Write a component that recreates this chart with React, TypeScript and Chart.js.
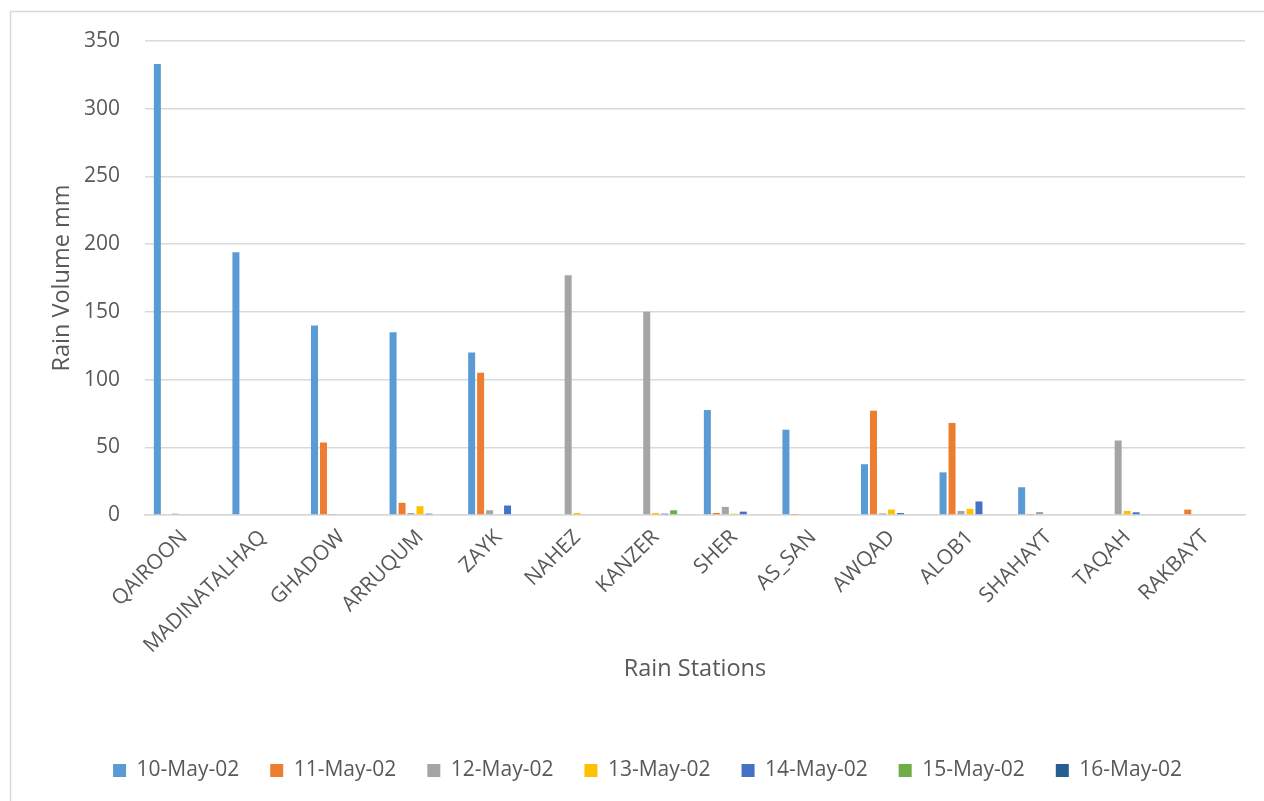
import React, { useEffect, useRef } from "react";
import { Chart, registerables } from "chart.js";

Chart.register(...registerables);

const stations = [
  "QAIROON", "MADINATALHAQ", "GHADOW", "ARRUQUM", "ZAYK", "NAHEZ", "KANZER",
  "SHER", "AS_SAN", "AWQAD", "ALOB1", "SHAHAYT", "TAQAH", "RAKBAYT",
];

const seriesNames = ["10-May-02", "11-May-02", "12-May-02", "13-May-02", "14-May-02", "15-May-02", "16-May-02"];

const may10 = [333, 194, 140, 135, 120, 0, 0, 77.5, 63, 37.5, 31.5, 20.5, 0, 0];
const may11 = [0, 0, 53.5, 9, 105, 0, 0, 1.5, 0.3, 77, 68, 0.3, 0, 4];
const may12 = [1, 0, 0.3, 1.5, 3.5, 177, 150, 6, 0, 1.2, 3, 2.2, 55, 0];
const may13 = [0.5, 0, 0.5, 6.5, 0, 1.5, 1.5, 1, 0, 4, 4.5, 0.5, 3, 0];
const may14 = [0, 0, 0, 1, 7, 0, 1, 2.5, 0, 1.5, 10, 0, 2, 0];
const may15 = [0, 0, 0, 0, 0, 0, 3.5, 0, 0, 0, 0, 0, 0, 0];
const may16 = [0, 0, 0, 0, 0, 0, 0, 0, 0, 0, 0, 0, 0, 0];

const seriesValues = [may10, may11, may12, may13, may14, may15, may16];
const seriesColors = ["#5B9BD5", "#ED7D31", "#A5A5A5", "#FFC000", "#4472C4", "#70AD47", "#255E91"];

const yTicks = [0, 50, 100, 150, 200, 250, 300, 350];

const FONT = "'Open Sans', 'Liberation Sans', sans-serif";
const TEXT = "#595959";
const GRID = "#D9D9D9";

const framePlugin = {
  id: "frame",
  afterLayout(chart: any) {
    if (chart.legend) {
      chart.legend.left += 15;
      chart.legend.right += 15;
    }
  },
  beforeDraw(chart: any) {
    const ctx = chart.ctx;
    ctx.save();
    ctx.strokeStyle = GRID;
    ctx.lineWidth = 1.5;
    ctx.beginPath();
    ctx.moveTo(10.5, 900);
    ctx.lineTo(10.5, 11.5);
    ctx.lineTo(1300, 11.5);
    ctx.stroke();
    ctx.restore();
  },
};

export default function App() {
  const ref = useRef<HTMLCanvasElement>(null);

  useEffect(() => {
    if (!ref.current) return;
    const chart = new Chart(ref.current, {
      type: "bar",
      data: {
        labels: stations,
        datasets: seriesNames.map((name, i) => ({
          label: name,
          data: seriesValues[i],
          backgroundColor: seriesColors[i],
          borderWidth: 0,
          categoryPercentage: 0.8,
          barPercentage: 0.78,
        })),
      },
      options: {
        responsive: false,
        animation: false,
        layout: { padding: { left: 20, right: 19, top: 41, bottom: 10 } },
        plugins: {
          tooltip: { enabled: false },
          legend: {
            position: "bottom",
            labels: {
              boxWidth: 13,
              boxHeight: 13,
              padding: 31,
              color: TEXT,
              font: { family: FONT, size: 21 },
            },
          },
        },
        scales: {
          x: {
            grid: { display: false },
            border: { display: true, color: GRID, width: 1.5 },
            ticks: {
              color: TEXT,
              font: { family: FONT, size: 21 },
              minRotation: 45,
              maxRotation: 45,
              autoSkip: false,
              padding: 2,
            },
            title: {
              display: true,
              text: "Rain Stations",
              color: TEXT,
              font: { family: FONT, size: 23.5 },
              padding: { top: 4, bottom: 46 },
            },
            afterFit: (scale: any) => {
              scale.height = 214;
            },
          },
          y: {
            min: 0,
            max: 350,
            afterBuildTicks: (scale: any) => {
              scale.ticks = yTicks.map((v) => ({ value: v }));
            },
            grid: { color: GRID, lineWidth: 1.5, drawTicks: false },
            border: { display: false },
            ticks: {
              color: TEXT,
              font: { family: FONT, size: 21 },
              padding: 25,
            },
            title: {
              display: true,
              text: "Rain Volume mm",
              color: TEXT,
              font: { family: FONT, size: 23.5 },
              padding: { top: 28, bottom: 0 },
            },
            afterFit: (scale: any) => {
              scale.width = 125;
            },
          },
        },
      },
      plugins: [framePlugin],
    });
    return () => chart.destroy();
  }, []);

  return (
    <div style={{ position: "absolute", left: 0, top: 0, width: 1264, height: 801, background: "#fff" }}>
      <canvas ref={ref} width={1264} height={801} style={{ display: "block", width: 1264, height: 801 }} />
    </div>
  );
}
